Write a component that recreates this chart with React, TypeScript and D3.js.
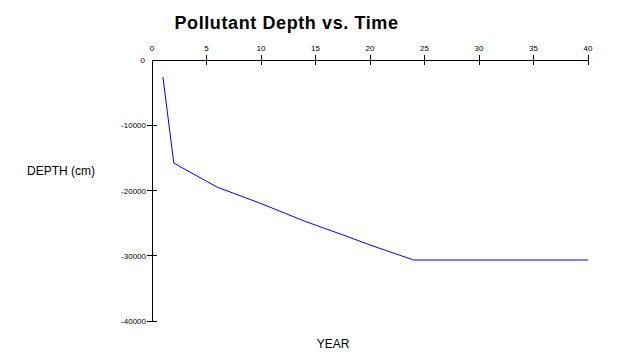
import React from "react";
import * as d3 from "d3";

const years = [1, 2, 6, 10, 14, 18, 20, 24, 40];
const depths = [-2600, -15800, -19500, -22000, -24700, -27100, -28350, -30650, -30650];
const xTicks = [0, 5, 10, 15, 20, 25, 30, 35, 40];
const yTicks = [0, -10000, -20000, -30000, -40000];

export default function App() {
  const W = 632, H = 363;
  const x = d3.scaleLinear().domain([0, 40]).range([152, 588]);
  const y = d3.scaleLinear().domain([0, -40000]).range([60, 321]);
  const line = d3.line<number>().x((_, i) => x(years[i])).y((d) => y(d));
  const font = "Arial, 'Liberation Sans', sans-serif";
  return (
    <svg width={W} height={H} style={{ position: "absolute", left: 0, top: 0, background: "#fff" }}>
      <rect width={W} height={H} fill="#fff" />
      <text x={286.5} y={29} textAnchor="middle" fontFamily={font} fontWeight="bold" fontSize={18} letterSpacing={0.6}>
        Pollutant Depth vs. Time
      </text>
      <line x1={x(0)} x2={x(40)} y1={y(0)} y2={y(0)} stroke="#000" strokeWidth={1} shapeRendering="crispEdges" />
      <line x1={x(0)} x2={x(0)} y1={y(0)} y2={y(-40000)} stroke="#000" strokeWidth={1} shapeRendering="crispEdges" />
      {xTicks.map((t) => (
        <g key={"x" + t}>
          {t !== 0 && (
            <line x1={x(t)} x2={x(t)} y1={y(0) - 5} y2={y(0) + 5} stroke="#000" shapeRendering="crispEdges" />
          )}
          <text x={x(t)} y={51} textAnchor="middle" fontFamily={font} fontSize={8}>
            {t}
          </text>
        </g>
      ))}
      {yTicks.map((t) => (
        <g key={"y" + t}>
          {t !== 0 && (
            <line x1={x(0) - 5} x2={x(0) + 5} y1={y(t)} y2={y(t)} stroke="#000" shapeRendering="crispEdges" />
          )}
          <text x={t === 0 ? 145 : 146} y={y(t) + 3} textAnchor="end" fontFamily={font} fontSize={8}>
            {t === 0 ? "0" : "-" + Math.abs(t)}
          </text>
        </g>
      ))}
      <path d={line(depths) || ""} fill="none" stroke="#0000ff" strokeWidth={1} />
      <text x={27} y={175} fontFamily={font} fontSize={12}>
        DEPTH (cm)
      </text>
      <text x={333} y={348} textAnchor="middle" fontFamily={font} fontSize={12}>
        YEAR
      </text>
    </svg>
  );
}
